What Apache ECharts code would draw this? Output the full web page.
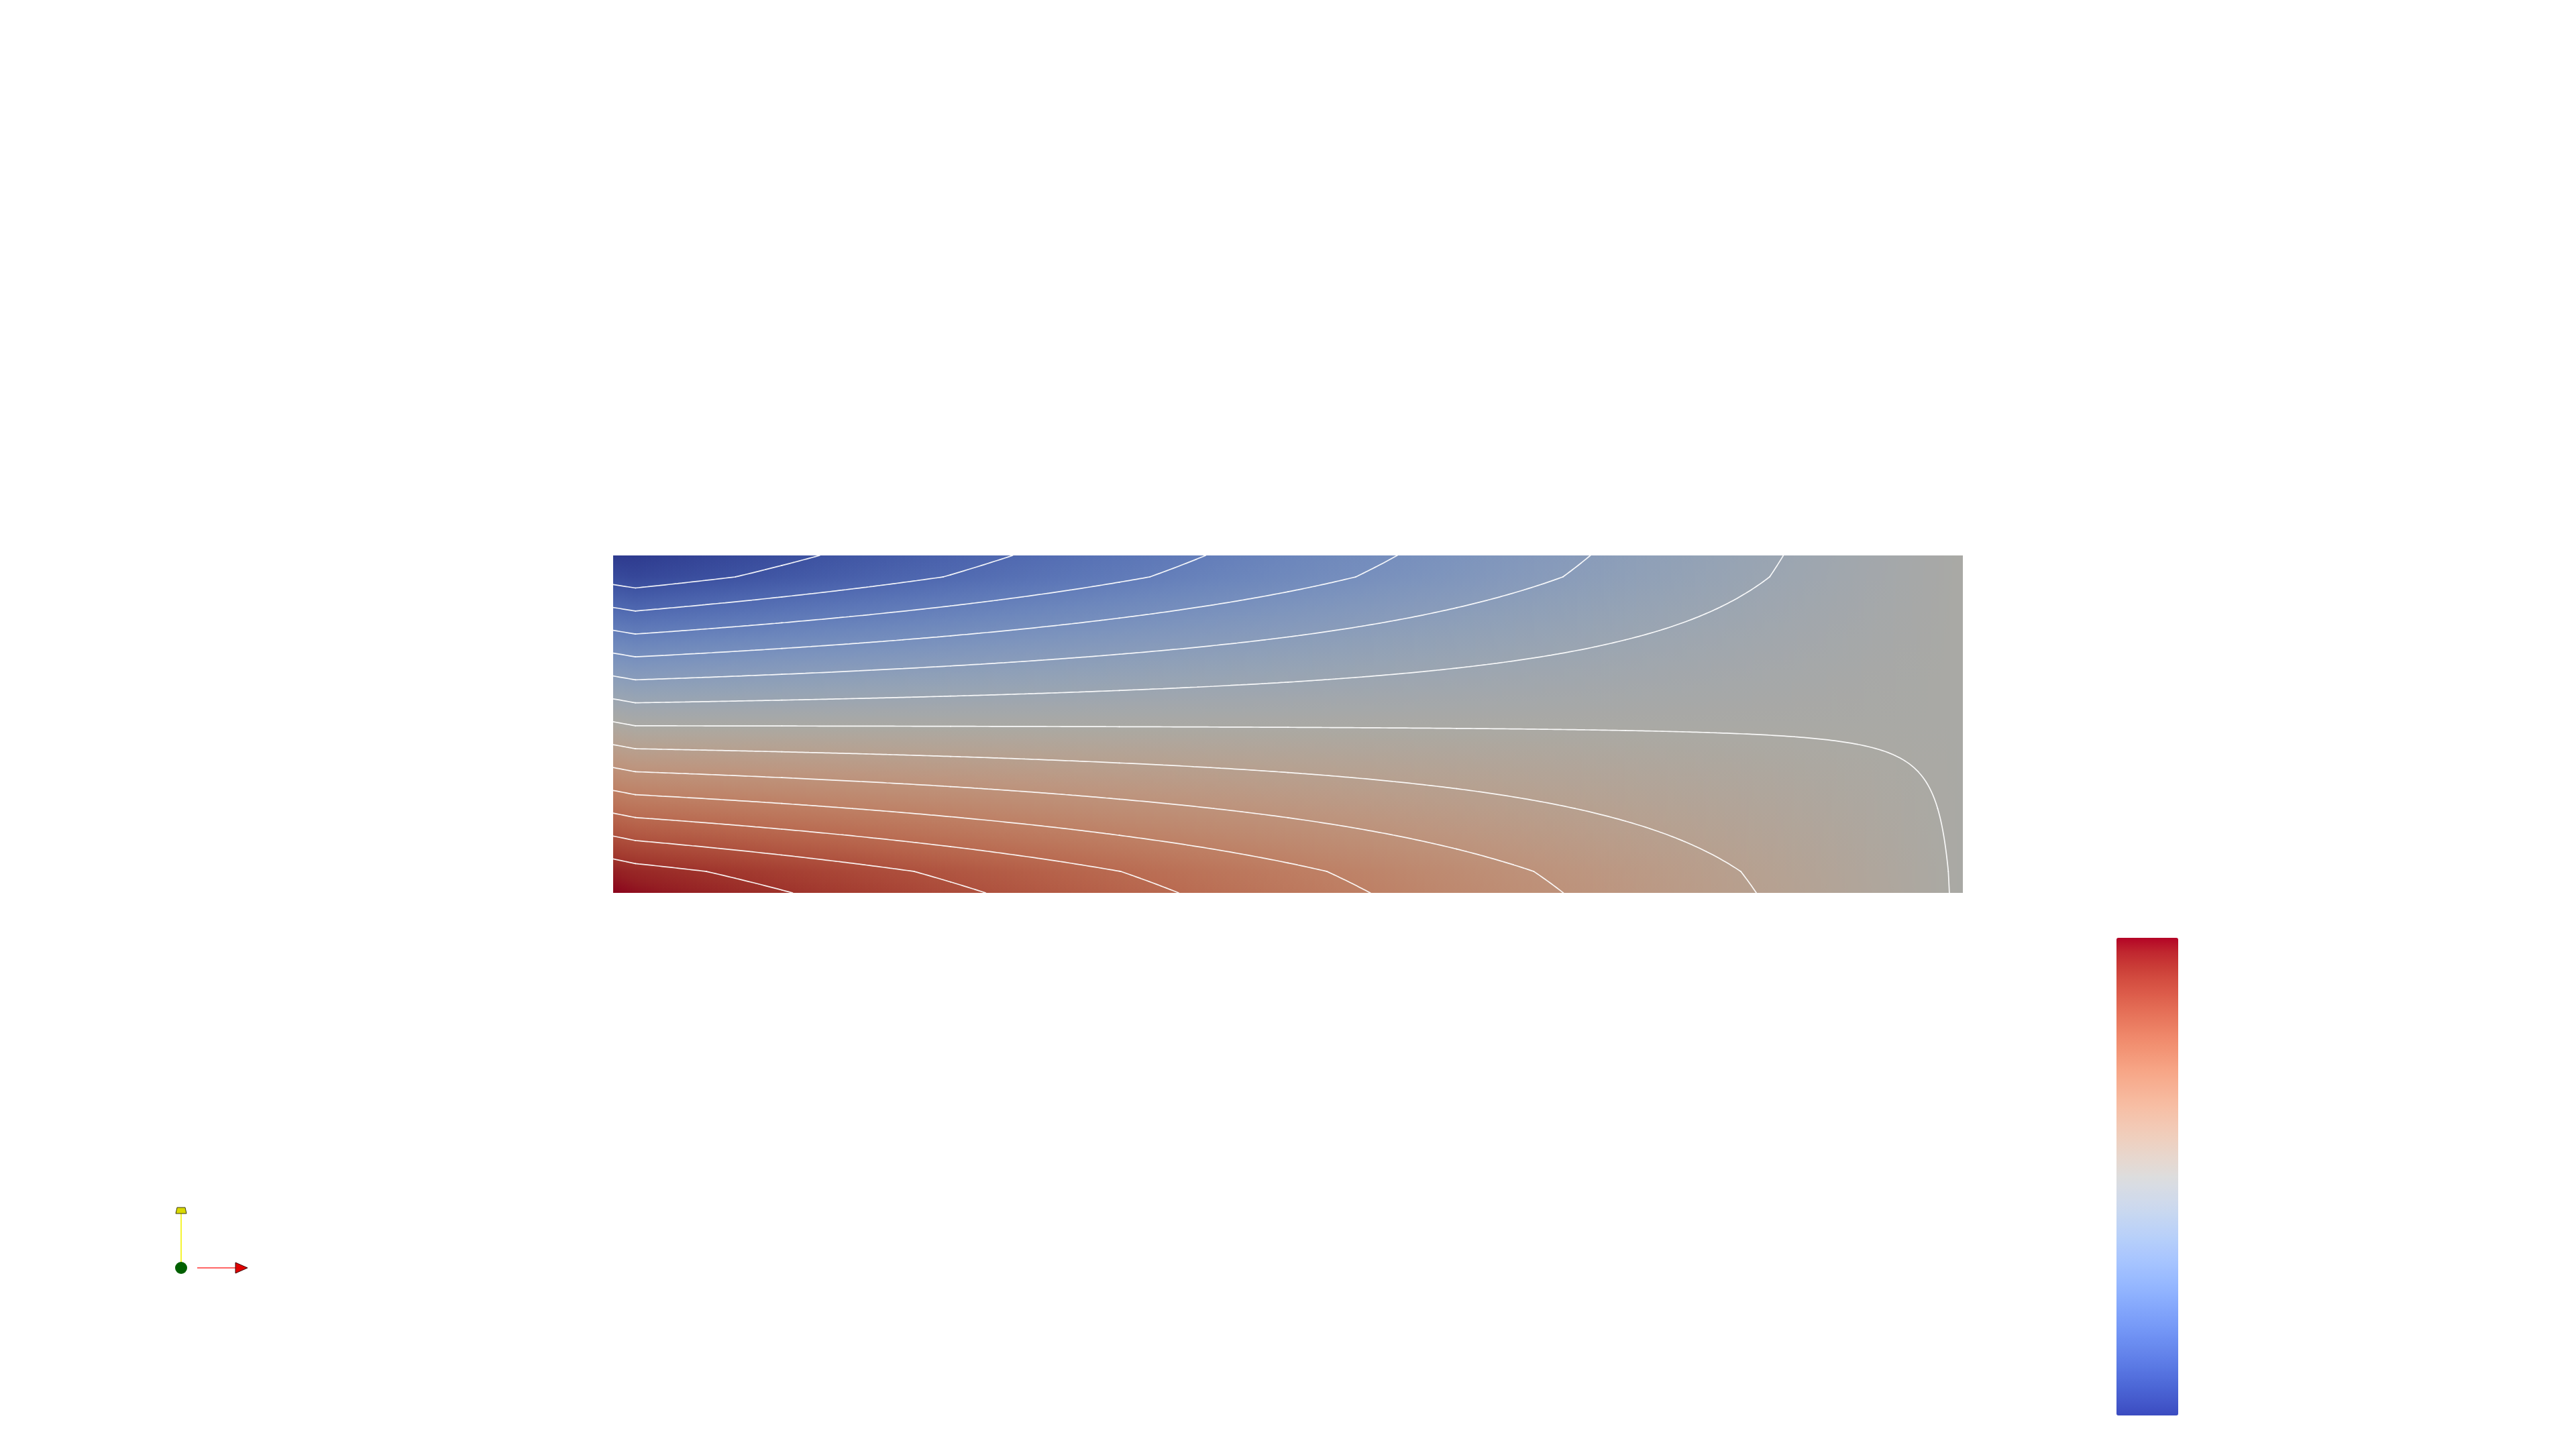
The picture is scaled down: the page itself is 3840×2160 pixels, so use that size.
<!DOCTYPE html>
<html>
<head>
<meta charset="utf-8">
<script src="https://cdn.jsdelivr.net/npm/echarts@6/dist/echarts.min.js"></script>
<style>
html,body{margin:0;padding:0;background:#ffffff;}
#chart{width:3840px;height:2160px;}
</style>
</head>
<body>
<div id="chart"></div>
<script>
// ---- mesh node coordinates (x along the beam 0..4, y across 0..1) ----
const xNodes = [0, 0.066, 0.5, 1, 1.5, 2, 2.5, 3, 3.5, 4];
const yNodes = [0, 0.0635, 0.25, 0.5, 0.75, 0.9365, 1];

// ---- nodal scalar values, one row per yNode (bottom -> top) ----
const row0 = [ 1.000,  0.974,  0.865,  0.740,  0.615,  0.490,  0.365,  0.240,  0.115, -0.010];
const row1 = [ 0.935,  0.906,  0.805,  0.689,  0.572,  0.456,  0.339,  0.223,  0.106, -0.010];
const row2 = [ 0.542,  0.515,  0.457,  0.390,  0.323,  0.257,  0.190,  0.123,  0.057, -0.010];
const row3 = [ 0.015, -0.010, -0.010, -0.010, -0.010, -0.010, -0.010, -0.010, -0.010, -0.010];
const row4 = [-0.512, -0.535, -0.477, -0.410, -0.343, -0.277, -0.210, -0.143, -0.077, -0.010];
const row5 = [-0.905, -0.926, -0.825, -0.709, -0.592, -0.476, -0.359, -0.243, -0.126, -0.010];
const row6 = [-1.000, -0.994, -0.885, -0.760, -0.635, -0.510, -0.385, -0.260, -0.135, -0.010];
const fieldRows = [row0, row1, row2, row3, row4, row5, row6];

// ---- contour values ----
const contourLevels = [-0.857, -0.714, -0.571, -0.429, -0.286, -0.143, 0, 0.143, 0.286, 0.429, 0.571, 0.714, 0.857];

// ---- colour range ----
const rangeMin = -1, rangeMax = 1;

// Cool to Warm colour map
const coolWarm = [
 [59,76,192],[68,90,204],[77,104,215],[87,117,225],[98,130,234],[108,142,241],[119,154,247],[130,165,251],
 [141,176,254],[152,185,255],[163,194,255],[174,201,253],[184,208,249],[194,213,244],[204,217,238],[213,219,230],
 [221,221,221],[229,216,209],[236,211,197],[241,204,185],[245,196,173],[247,187,160],[247,177,148],[247,166,135],
 [244,154,123],[241,141,111],[236,127,99],[229,112,88],[222,96,77],[213,80,66],[203,62,56],[192,40,47],[180,4,38]
];
const lightFactor = [0.77, 0.765, 0.74];

function mapRGB(v) {
  let n = (v - rangeMin) / (rangeMax - rangeMin);
  n = Math.max(0, Math.min(1, n));
  const p = n * (coolWarm.length - 1);
  const i = Math.min(coolWarm.length - 2, Math.floor(p));
  const f = p - i;
  const a = coolWarm[i], b = coolWarm[i + 1];
  return [a[0] + (b[0] - a[0]) * f, a[1] + (b[1] - a[1]) * f, a[2] + (b[2] - a[2]) * f];
}
function shadedColor(v) {
  const c = mapRGB(v);
  return 'rgb(' + Math.round(c[0] * lightFactor[0]) + ',' + Math.round(c[1] * lightFactor[1]) + ',' + Math.round(c[2] * lightFactor[2]) + ')';
}
const barColors = coolWarm.map(c => 'rgb(' + c[0] + ',' + c[1] + ',' + c[2] + ')');

// column strips (one item per mesh column)
const columnItems = [];
for (let j = 0; j < xNodes.length - 1; j++) columnItems.push([xNodes[j], xNodes[j + 1], j]);
// cells (one item per mesh cell)
const cellItems = [];
for (let i = 0; i < yNodes.length - 1; i++)
  for (let j = 0; j < xNodes.length - 1; j++)
    cellItems.push([xNodes[j], xNodes[j + 1], yNodes[i], yNodes[i + 1], j, i]);

function renderFill(params, api) {
  const x0 = api.value(0), x1 = api.value(1), j = api.value(2);
  const pTL = api.coord([x0, yNodes[yNodes.length - 1]]);
  const pBR = api.coord([x1, yNodes[0]]);
  const left = pTL[0], right = pBR[0], top = pTL[1], bottom = pBR[1];
  const w = right - left;
  const n = Math.max(1, Math.round(w / 4));
  const ySpan = yNodes[yNodes.length - 1] - yNodes[0];
  const children = [];
  const isLast = (j === xNodes.length - 2);
  for (let k = 0; k < n; k++) {
    const a = (k + 0.5) / n;
    const col = fieldRows.map(r => r[j] + (r[j + 1] - r[j]) * a);
    const stops = [];
    for (let r = yNodes.length - 1; r > 0; r--) {
      const yt = yNodes[r], yb = yNodes[r - 1], vt = col[r], vb = col[r - 1];
      const m = Math.max(2, Math.ceil(Math.abs(vt - vb) * 60));
      for (let q = 0; q <= m; q++) {
        const f = q / m;
        const y = yt + (yb - yt) * f;
        const v = vt + (vb - vt) * f;
        stops.push({offset: (yNodes[yNodes.length - 1] - y) / ySpan, color: shadedColor(v)});
      }
    }
    const sx = left + w * k / n;
    let sw = w / n + ((isLast && k === n - 1) ? 0 : 0.9);
    children.push({
      type: 'rect',
      shape: {x: sx, y: top, width: sw, height: bottom - top},
      style: {fill: {type: 'linear', x: 0, y: 0, x2: 0, y2: 1, colorStops: stops}},
      silent: true
    });
  }
  return {type: 'group', children: children};
}

function renderContours(params, api) {
  const x0 = api.value(0), x1 = api.value(1), y0 = api.value(2), y1 = api.value(3);
  const j = api.value(4), i = api.value(5);
  const v00 = fieldRows[i][j], v10 = fieldRows[i][j + 1], v01 = fieldRows[i + 1][j], v11 = fieldRows[i + 1][j + 1];
  const pBL = api.coord([x0, y0]);
  const pTR = api.coord([x1, y1]);
  const L = pBL[0], R = pTR[0], B = pBL[1], T = pTR[1];
  const vmin = Math.min(v00, v10, v01, v11), vmax = Math.max(v00, v10, v01, v11);
  const nx = Math.max(2, Math.round((R - L) / 5));
  const ny = Math.max(2, Math.round((B - T) / 5));
  // sample bilinear field: g[iy][ix], iy=0 at bottom
  const g = [];
  for (let iy = 0; iy <= ny; iy++) {
    const b = iy / ny;
    const rowv = [];
    for (let ix = 0; ix <= nx; ix++) {
      const a = ix / nx;
      rowv.push(v00 * (1 - a) * (1 - b) + v10 * a * (1 - b) + v01 * (1 - a) * b + v11 * a * b);
    }
    g.push(rowv);
  }
  const px = ix => L + (R - L) * ix / nx;
  const py = iy => B + (T - B) * iy / ny;
  let d = '';
  contourLevels.forEach(lv => {
    if (lv < vmin || lv > vmax) return;
    for (let iy = 0; iy < ny; iy++) {
      for (let ix = 0; ix < nx; ix++) {
        const a = g[iy][ix], b = g[iy][ix + 1], c = g[iy + 1][ix + 1], e = g[iy + 1][ix];
        const pts = [];
        // bottom edge a-b
        if ((a < lv) !== (b < lv)) { const t = (lv - a) / (b - a); pts.push([px(ix + t), py(iy)]); }
        // right edge b-c
        if ((b < lv) !== (c < lv)) { const t = (lv - b) / (c - b); pts.push([px(ix + 1), py(iy + t)]); }
        // top edge e-c
        if ((e < lv) !== (c < lv)) { const t = (lv - e) / (c - e); pts.push([px(ix + t), py(iy + 1)]); }
        // left edge a-e
        if ((a < lv) !== (e < lv)) { const t = (lv - a) / (e - a); pts.push([px(ix), py(iy + t)]); }
        if (pts.length === 2) {
          d += 'M' + pts[0][0].toFixed(2) + ' ' + pts[0][1].toFixed(2) + 'L' + pts[1][0].toFixed(2) + ' ' + pts[1][1].toFixed(2);
        } else if (pts.length === 4) {
          d += 'M' + pts[0][0].toFixed(2) + ' ' + pts[0][1].toFixed(2) + 'L' + pts[3][0].toFixed(2) + ' ' + pts[3][1].toFixed(2);
          d += 'M' + pts[1][0].toFixed(2) + ' ' + pts[1][1].toFixed(2) + 'L' + pts[2][0].toFixed(2) + ' ' + pts[2][1].toFixed(2);
        }
      }
    }
  });
  if (!d) return null;
  return {
    type: 'path',
    shape: {pathData: d},
    style: {fill: null, stroke: 'rgba(255,255,255,0.92)', lineWidth: 1.7, lineCap: 'round', lineJoin: 'round'},
    silent: true
  };
}

const chart = echarts.init(document.getElementById('chart'), null, {renderer: 'canvas'});
chart.setOption({
  backgroundColor: '#ffffff',
  animation: false,
  grid: {left: 914, top: 828, width: 2012, height: 503, show: false},
  xAxis: {type: 'value', min: 0, max: 4, show: false},
  yAxis: {type: 'value', min: 0, max: 1, show: false},
  visualMap: {
    type: 'continuous',
    min: rangeMin,
    max: rangeMax,
    seriesIndex: [],
    calculable: false,
    hoverLink: false,
    orient: 'vertical',
    left: 3150,
    top: 1393,
    padding: 5,
    itemWidth: 92,
    itemHeight: 712,
    inRange: {color: barColors}
  },
  series: [
    {
      type: 'custom',
      name: 'field',
      coordinateSystem: 'cartesian2d',
      renderItem: renderFill,
      data: columnItems,
      clip: true,
      silent: true,
      z: 1
    },
    {
      type: 'custom',
      name: 'contours',
      coordinateSystem: 'cartesian2d',
      renderItem: renderContours,
      data: cellItems,
      clip: true,
      silent: true,
      z: 2
    }
  ],
  graphic: [
    // orientation axes (triad)
    {type: 'line', shape: {x1: 270, y1: 1884, x2: 270, y2: 1808}, style: {stroke: '#f2f200', lineWidth: 1.6}, z: 10},
    {type: 'polygon', shape: {points: [[264, 1800], [276, 1800], [278, 1809], [262, 1809]]}, style: {fill: '#d9d900', stroke: '#3a3a10', lineWidth: 1}, z: 11},
    {type: 'line', shape: {x1: 294, y1: 1890, x2: 352, y2: 1890}, style: {stroke: '#ff3333', lineWidth: 1.6}, z: 10},
    {type: 'polygon', shape: {points: [[351, 1882], [369, 1890], [351, 1898]]}, style: {fill: '#e00000', stroke: '#3a0808', lineWidth: 1}, z: 11},
    {type: 'circle', shape: {cx: 270, cy: 1890, r: 9}, style: {fill: '#006000'}, z: 12}
  ]
});
</script>
</body>
</html>
